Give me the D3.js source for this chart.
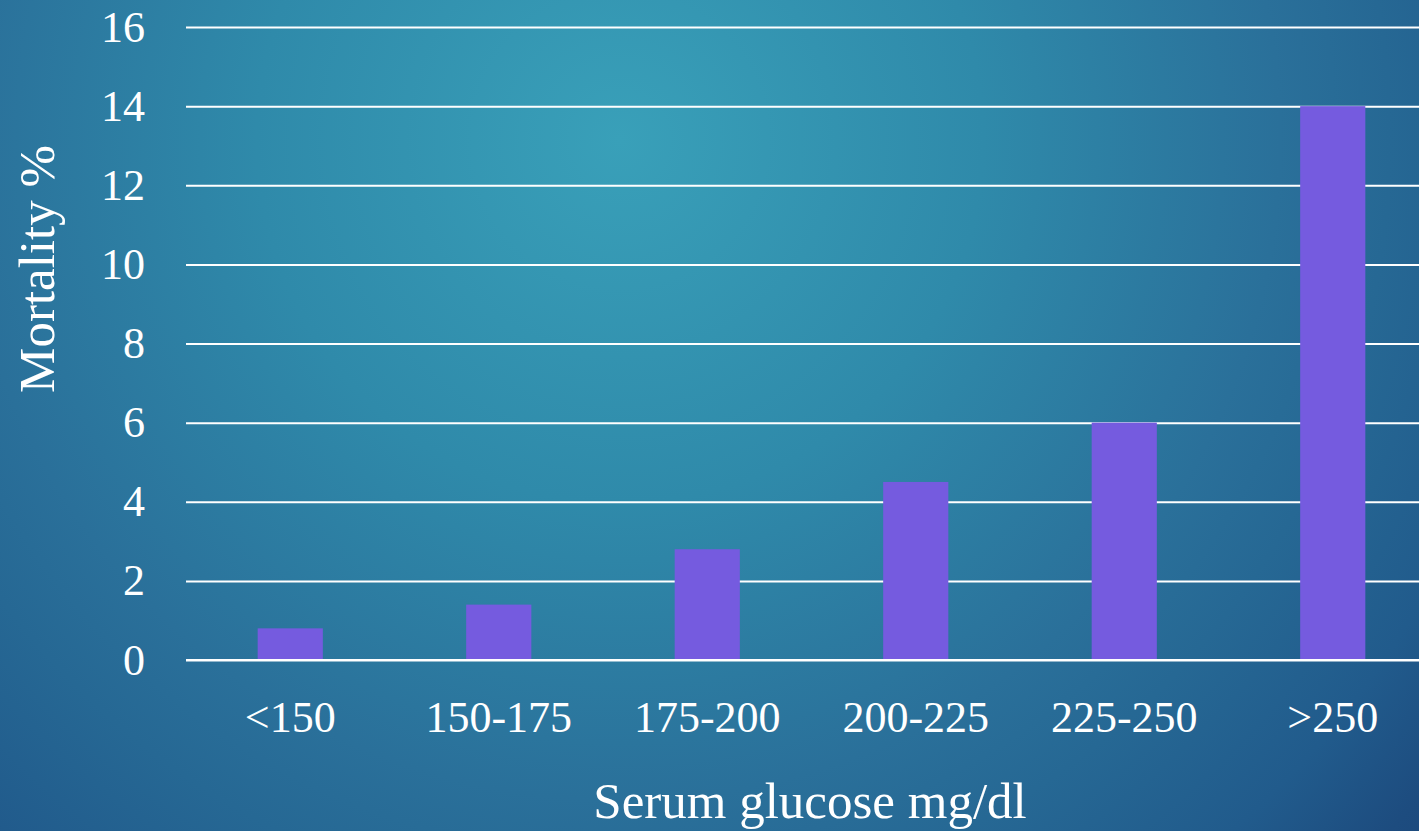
<!DOCTYPE html>
<html>
<head>
<meta charset="utf-8">
<script src="https://cdn.jsdelivr.net/npm/d3@7"></script>
<style>
  html, body { margin: 0; padding: 0; overflow: hidden; background: #2a6e98; }
  svg { display: block; }
  text { font-family: "Liberation Serif", "DejaVu Serif", serif; fill: #ffffff; }
</style>
</head>
<body>
<svg id="chart" width="1419" height="831"></svg>
<script>
// Mortality by serum glucose range
const categories = ["<150", "150-175", "175-200", "200-225", "225-250", ">250"];
const mortality = [0.8, 1.4, 2.8, 4.5, 6, 14];
const yTicks = [0, 2, 4, 6, 8, 10, 12, 14, 16];
const yTitle = "Mortality %";
const xTitle = "Serum glucose mg/dl";

const W = 1419, H = 831;
const margin = { left: 186, top: 27, bottomY: 660 };
const plotRight = 1437;

const svg = d3.select("#chart");

// Background: soft radial glow, brightest upper centre
const defs = svg.append("defs");
const grad = defs.append("radialGradient")
  .attr("id", "bg")
  .attr("gradientUnits", "userSpaceOnUse")
  .attr("cx", 620).attr("cy", 140).attr("r", 1100);
[[0, "#39a0b9"], [0.33, "#2f8aaa"], [0.6, "#2a709a"], [0.7, "#266894"],
 [0.84, "#215b8c"], [0.94, "#1d4c7f"], [1, "#1b477b"]]
  .forEach(([o, c]) => grad.append("stop").attr("offset", o).attr("stop-color", c));
svg.append("rect").attr("width", W).attr("height", H).attr("fill", "url(#bg)");

const x = d3.scaleBand()
  .domain(categories)
  .range([margin.left, plotRight])
  .paddingInner(0.6875)
  .paddingOuter(0.34375);

const y = d3.scaleLinear()
  .domain([0, 16])
  .range([margin.bottomY, margin.top]);

// Horizontal gridlines with value labels
const yAxis = d3.axisLeft(y)
  .tickValues(yTicks)
  .tickSize(-(W - margin.left))
  .tickPadding(41)
  .tickFormat(d3.format("d"));

const gy = svg.append("g")
  .attr("transform", `translate(${margin.left},0)`)
  .call(yAxis);
gy.select(".domain").remove();
gy.selectAll(".tick line")
  .attr("stroke", "#ffffff")
  .attr("stroke-width", 2);
gy.selectAll(".tick text")
  .attr("fill", "#ffffff")
  .style("font-family", "'Liberation Serif', serif")
  .style("font-size", "44px");

// Bars
svg.append("g")
  .selectAll("rect")
  .data(categories.map((c, i) => ({ c, v: mortality[i] })))
  .join("rect")
  .attr("x", d => x(d.c))
  .attr("y", d => y(d.v))
  .attr("width", x.bandwidth())
  .attr("height", d => y(0) - y(d.v))
  .attr("fill", "#755bdf");

// Redraw zero line over the bars' bottom edge
svg.append("line")
  .attr("x1", margin.left).attr("x2", W)
  .attr("y1", y(0)).attr("y2", y(0))
  .attr("stroke", "#ffffff").attr("stroke-width", 2);

// Category labels
const xAxis = d3.axisBottom(x).tickSize(0).tickPadding(41);
const gx = svg.append("g")
  .attr("transform", `translate(0,${margin.bottomY})`)
  .call(xAxis);
gx.select(".domain").remove();
gx.selectAll(".tick text")
  .attr("fill", "#ffffff")
  .style("font-family", "'Liberation Serif', serif")
  .style("font-size", "44px");

// Axis titles
svg.append("text")
  .attr("transform", `translate(54,269) rotate(-90)`)
  .attr("text-anchor", "middle")
  .style("font-size", "51px")
  .text(yTitle);

svg.append("text")
  .attr("x", 810).attr("y", 818)
  .attr("text-anchor", "middle")
  .style("font-size", "51px")
  .text(xTitle);
</script>
</body>
</html>
